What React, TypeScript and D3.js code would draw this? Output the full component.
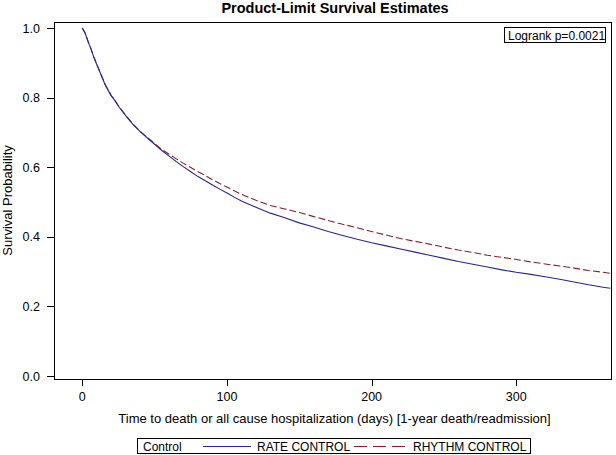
import React from "react";
import * as d3 from "d3";

const title = "Product-Limit Survival Estimates";
const xLabel = "Time to death or all cause hospitalization (days) [1-year death/readmission]";
const yLabel = "Survival Probability";
const pLabel = "Logrank p=0.0021";
const legendTitle = "Control";
const seriesNames = ["RATE CONTROL", "RHYTHM CONTROL"];

const xTicks = [0, 100, 200, 300];
const yTicks = [0.0, 0.2, 0.4, 0.6, 0.8, 1.0];

const rateDays = [0, 2, 4, 6, 8, 10, 12, 14, 16, 18, 20, 22, 25, 30, 35, 40, 45, 50, 55, 60, 65, 70, 75, 80, 85, 90, 95, 100, 105, 110, 120, 130, 140, 150, 160, 170, 180, 190, 200, 210, 220, 230, 240, 250, 260, 270, 280, 290, 300, 310, 320, 330, 340, 350, 360, 365];
const rateSurv = [1.0, 0.985, 0.96, 0.94, 0.915, 0.895, 0.875, 0.855, 0.835, 0.82, 0.805, 0.795, 0.775, 0.748, 0.723, 0.702, 0.684, 0.666, 0.648, 0.632, 0.616, 0.601, 0.587, 0.573, 0.561, 0.549, 0.537, 0.526, 0.514, 0.503, 0.485, 0.468, 0.455, 0.44, 0.428, 0.415, 0.404, 0.393, 0.383, 0.374, 0.365, 0.356, 0.347, 0.338, 0.329, 0.321, 0.313, 0.305, 0.298, 0.292, 0.285, 0.278, 0.27, 0.262, 0.255, 0.252];

const rhythmDays = [0, 2, 4, 6, 8, 10, 12, 14, 16, 18, 20, 22, 25, 30, 35, 40, 45, 50, 55, 60, 65, 70, 75, 80, 85, 90, 95, 100, 105, 110, 120, 130, 140, 150, 160, 170, 180, 190, 200, 210, 220, 230, 240, 250, 260, 270, 280, 290, 300, 310, 320, 330, 340, 350, 360, 365];
const rhythmSurv = [1.0, 0.985, 0.962, 0.94, 0.917, 0.896, 0.876, 0.856, 0.836, 0.821, 0.806, 0.796, 0.776, 0.749, 0.724, 0.703, 0.685, 0.668, 0.651, 0.637, 0.624, 0.611, 0.599, 0.587, 0.576, 0.564, 0.553, 0.543, 0.532, 0.522, 0.505, 0.49, 0.48, 0.47, 0.458, 0.447, 0.436, 0.426, 0.415, 0.405, 0.395, 0.387, 0.379, 0.37, 0.362, 0.355, 0.347, 0.341, 0.335, 0.328, 0.322, 0.316, 0.31, 0.303, 0.298, 0.295];

const FONT = "'Liberation Sans', Arial, Helvetica, sans-serif";
const BLUE = "#25259a";
const RED = "#8c1c2c";

export default function App() {
  const W = 616, H = 455;
  const frame = { left: 54, top: 22, right: 611, bottom: 379 };
  const x = d3.scaleLinear().domain([0, 300]).range([82.3, 516.3]);
  const y = d3.scaleLinear().domain([0, 1]).range([376, 28]);
  const line = d3.line<[number, number]>().x(d => x(d[0])).y(d => y(d[1])).curve(d3.curveLinear);
  const rate = line(rateDays.map((t, i) => [t, rateSurv[i]]) as [number, number][]) || "";
  const rhythm = line(rhythmDays.map((t, i) => [t, rhythmSurv[i]]) as [number, number][]) || "";
  const cx = 334.5;
  const cy = (frame.top + frame.bottom) / 2;

  return (
    <svg width={W} height={H} style={{ position: "fixed", left: 0, top: 0, background: "#fff" }} fontFamily={FONT}>
      <rect x={0} y={0} width={W} height={H} fill="#fff" />
      <text x={335} y={13} textAnchor="middle" fontSize={14.5} fontWeight="bold">{title}</text>
      <rect x={frame.left + 0.5} y={frame.top + 0.5} width={frame.right - frame.left} height={frame.bottom - frame.top} fill="none" stroke="#000" strokeWidth={1} />
      {yTicks.map(v => (
        <g key={"y" + v}>
          <line x1={frame.left - 7} x2={frame.left} y1={Math.round(y(v)) + 0.5} y2={Math.round(y(v)) + 0.5} stroke="#000" />
          <text x={frame.left - 14} y={y(v) + 4.5} textAnchor="end" fontSize={12.5}>{v.toFixed(1)}</text>
        </g>
      ))}
      {xTicks.map(v => (
        <g key={"x" + v}>
          <line x1={Math.round(x(v)) + 0.5} x2={Math.round(x(v)) + 0.5} y1={frame.bottom} y2={frame.bottom + 7} stroke="#000" />
          <text x={x(v)} y={401} textAnchor="middle" fontSize={12.5}>{v}</text>
        </g>
      ))}
      <text x={cx} y={423} textAnchor="middle" fontSize={13}>{xLabel}</text>
      <text transform={`translate(12,${cy}) rotate(-90)`} textAnchor="middle" fontSize={13}>{yLabel}</text>
      <rect x={504.5} y={27.5} width={101} height={15} fill="#fff" stroke="#000" />
      <text x={508} y={39.5} fontSize={12}>{pLabel}</text>
      <path d={rhythm} fill="none" stroke={RED} strokeWidth={1.1} strokeDasharray="7,3" />
      <path d={rate} fill="none" stroke={BLUE} strokeWidth={1.1} />
      <rect x={137.5} y={438.5} width={393} height={15} fill="#fff" stroke="#000" />
      <text x={143} y={450.5} fontSize={12}>{legendTitle}</text>
      <line x1={203} x2={251} y1={446.5} y2={446.5} stroke={BLUE} />
      <text x={257} y={450.5} fontSize={12}>{seriesNames[0]}</text>
      <line x1={354} x2={405} y1={446.5} y2={446.5} stroke={RED} strokeDasharray="13,6" />
      <text x={413} y={450.5} fontSize={12}>{seriesNames[1]}</text>
    </svg>
  );
}
